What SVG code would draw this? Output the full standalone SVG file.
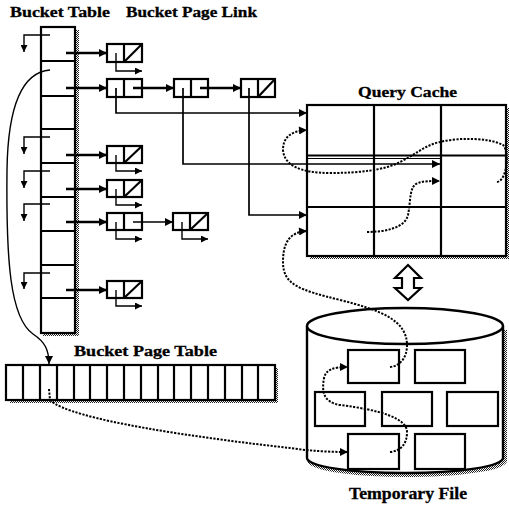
<svg xmlns="http://www.w3.org/2000/svg" width="509" height="507" viewBox="0 0 509 507">
  <defs>
    <pattern id="grain" width="2" height="2" patternUnits="userSpaceOnUse">
      <rect width="1" height="1" fill="#222"/>
      <rect x="1" y="1" width="1" height="1" fill="#222"/>
    </pattern>
    <marker id="ah" viewBox="0 0 10 10" refX="10" refY="5" markerWidth="10" markerHeight="8" markerUnits="userSpaceOnUse" orient="auto">
      <path d="M0 0 L10 5 L0 10 z" fill="#000"/>
    </marker>
    <marker id="ahs" viewBox="0 0 10 10" refX="10" refY="5" markerWidth="8" markerHeight="7" markerUnits="userSpaceOnUse" orient="auto">
      <path d="M0 0 L10 5 L0 10 z" fill="#000"/>
    </marker>
  </defs>
  <style>
    .label { font-family: "Liberation Serif", "DejaVu Serif", serif; font-weight: 700; font-size: 15px; fill: #000; stroke: #000; stroke-width: 0.3; }
    .box { fill: #fff; stroke: #000; stroke-width: 2.2; }
    .grid { stroke: #000; stroke-width: 2.2; fill: none; }
    .shadow { fill: url(#grain); }
    .node rect { fill: #fff; stroke: #000; stroke-width: 2.2; }
    .node line { stroke: #000; stroke-width: 2.2; }
    .ptr { fill: none; stroke: #000; stroke-width: 2.4; }
    .thin { fill: none; stroke: #000; stroke-width: 1.4; }
    .link { fill: none; stroke: #000; stroke-width: 1.7; }
    .dot { fill: none; stroke: #000; stroke-width: 2; stroke-dasharray: 2.2 1.4; }
  </style>
  <rect width="509" height="507" fill="#fff"/>

  <!-- titles -->
  <g id="labels">
    <text class="label" x="10" y="17" textLength="100" lengthAdjust="spacingAndGlyphs">Bucket Table</text>
    <text class="label" x="126" y="17" textLength="131" lengthAdjust="spacingAndGlyphs">Bucket Page Link</text>
    <text class="label" x="358" y="97" textLength="99" lengthAdjust="spacingAndGlyphs">Query Cache</text>
    <text class="label" x="74" y="356" textLength="143" lengthAdjust="spacingAndGlyphs">Bucket Page Table</text>
    <text class="label" x="349" y="499" textLength="118" lengthAdjust="spacingAndGlyphs" style="font-size:16px">Temporary File</text>
  </g>

  <!-- bucket table: 9 slots -->
  <g id="bucket-table">
    <rect class="shadow" x="75" y="30" width="4" height="306"/>
    <rect class="shadow" x="43" y="333" width="36" height="3"/>
    <rect class="box" x="41" y="27" width="34" height="306"/>
    <path class="grid" d="M41 61 H75 M41 96 H75 M41 129 H75 M41 163 H75 M41 197 H75 M41 231 H75 M41 265 H75 M41 298 H75"/>
  </g>

  <!-- bucket page table: 16 slots -->
  <g id="bucket-page-table">
    <rect class="shadow" x="10" y="400" width="268" height="3"/>
    <rect class="shadow" x="275" y="368" width="3" height="35"/>
    <rect class="box" x="6" y="365" width="269" height="35"/>
    <path class="grid" d="M23 365 V400 M40 365 V400 M57 365 V400 M74 365 V400 M90 365 V400 M107 365 V400 M124 365 V400 M141 365 V400 M158 365 V400 M174 365 V400 M191 365 V400 M208 365 V400 M225 365 V400 M242 365 V400 M258 365 V400"/>
  </g>

  <!-- bucket page link nodes -->
  <g id="node-r1" class="node"><rect x="107" y="44" width="35" height="18"/><line x1="124" y1="44" x2="124" y2="62"/><line x1="124" y1="62" x2="142" y2="44"/></g>
  <g id="node-r2a" class="node"><rect x="107" y="79" width="35" height="18"/><line x1="124" y1="79" x2="124" y2="97"/></g>
  <g id="node-r2b" class="node"><rect x="174" y="79" width="34" height="18"/><line x1="191" y1="79" x2="191" y2="97"/></g>
  <g id="node-r2c" class="node"><rect x="241" y="79" width="34" height="18"/><line x1="258" y1="79" x2="258" y2="97"/><line x1="258" y1="97" x2="275" y2="79"/></g>
  <g id="node-r4" class="node"><rect x="107" y="146" width="35" height="17"/><line x1="124" y1="146" x2="124" y2="163"/><line x1="124" y1="163" x2="142" y2="146"/></g>
  <g id="node-r5" class="node"><rect x="107" y="180" width="35" height="17"/><line x1="124" y1="180" x2="124" y2="197"/><line x1="124" y1="197" x2="142" y2="180"/></g>
  <g id="node-r6a" class="node"><rect x="107" y="213" width="35" height="17"/><line x1="124" y1="213" x2="124" y2="230"/></g>
  <g id="node-r6b" class="node"><rect x="173" y="213" width="35" height="17"/><line x1="190" y1="213" x2="190" y2="230"/><line x1="190" y1="230" x2="208" y2="213"/></g>
  <g id="node-r8" class="node"><rect x="107" y="281" width="35" height="17"/><line x1="124" y1="281" x2="124" y2="298"/><line x1="124" y1="298" x2="142" y2="281"/></g>

  <!-- query cache: 3 x 3 grid -->
  <g id="query-cache">
    <rect class="shadow" x="506" y="108" width="3" height="151"/>
    <rect class="shadow" x="310" y="256" width="199" height="3"/>
    <rect class="box" x="307" y="105" width="199" height="151"/>
    <path class="grid" d="M374 105 V256 M441 105 V256 M307 207 H506"/>
    <path class="grid" d="M307 155.5 H506"/>
    <path stroke="#000" stroke-width="1.2" d="M307 158.5 H441"/>
  </g>

  <!-- exchange arrow between cache and file -->
  <g id="exchange">
    <path d="M408 265 L421 278 L414 278 L414 288 L421 288 L408 300 L395 288 L402 288 L402 278 L395 278 Z" fill="#fff" stroke="#000" stroke-width="2.2" stroke-linejoin="miter"/>
  </g>

  <!-- temporary file drum with pages -->
  <g id="temporary-file">
    <path d="M505 330 V459 A98 15 0 0 1 309 461" fill="none" stroke="url(#grain)" stroke-width="4"/>
    <path d="M307 326 V458 A98 15 0 0 0 503 458 V326" fill="#fff" stroke="#000" stroke-width="2.4"/>
    <ellipse cx="405" cy="326" rx="98" ry="18" fill="#fff" stroke="#000" stroke-width="2.4"/>
    <rect class="box" x="348" y="350" width="51" height="33"/>
    <rect class="box" x="415" y="350" width="50" height="33"/>
    <rect class="box" x="315" y="392" width="50" height="34"/>
    <rect class="box" x="382" y="392" width="50" height="34"/>
    <rect class="box" x="447" y="392" width="51" height="34"/>
    <rect class="box" x="348" y="434" width="51" height="35"/>
    <rect class="box" x="415" y="434" width="50" height="35"/>
  </g>

  <g id="connectors">
    <!-- bucket slots to first page link -->
    <path class="ptr" marker-end="url(#ah)" d="M66 53 H107"/>
    <path class="ptr" marker-end="url(#ah)" d="M66 88 H107"/>
    <path class="ptr" marker-end="url(#ah)" d="M66 155 H107"/>
    <path class="ptr" marker-end="url(#ah)" d="M66 189 H107"/>
    <path class="ptr" marker-end="url(#ah)" d="M66 222 H107"/>
    <path class="ptr" marker-end="url(#ah)" d="M66 290 H107"/>

    <!-- next links along a chain -->
    <path class="ptr" marker-end="url(#ah)" d="M133 88 H174"/>
    <path class="ptr" marker-end="url(#ah)" d="M200 88 H241"/>
    <path class="link" marker-end="url(#ah)" d="M133 222 H173"/>

    <!-- chained slots inside the bucket table -->
    <path class="thin" marker-end="url(#ahs)" d="M50 35 H24 V52"/>
    <path class="thin" marker-end="url(#ahs)" d="M50 137 H24 V154"/>
    <path class="thin" marker-end="url(#ahs)" d="M50 171 H24 V188"/>
    <path class="thin" marker-end="url(#ahs)" d="M50 204 H24 V221"/>
    <path class="thin" marker-end="url(#ahs)" d="M50 273 H24 V289"/>

    <!-- page pointers -->
    <path class="thin" marker-end="url(#ahs)" d="M116 53 V71 H142"/>
    <path class="thin" marker-end="url(#ahs)" d="M116 155 V171 H142"/>
    <path class="thin" marker-end="url(#ahs)" d="M116 189 V205 H142"/>
    <path class="thin" marker-end="url(#ahs)" d="M116 222 V239 H142"/>
    <path class="thin" marker-end="url(#ahs)" d="M182 222 V239 H208"/>
    <path class="thin" marker-end="url(#ahs)" d="M116 290 V306 H142"/>

    <!-- page pointers into the query cache -->
    <path class="link" marker-end="url(#ah)" d="M116 88 V113 H307"/>
    <path class="link" marker-end="url(#ah)" d="M183 88 V164 H440"/>
    <path class="link" marker-end="url(#ah)" d="M249 88 V215 H307"/>

    <!-- bucket slot to bucket page table -->
    <path class="thin" marker-end="url(#ah)" d="M50 70 C25 72 8 100 7 170 C6 260 10 318 33 334 C45 342 49 350 49 364"/>

    <!-- dotted paths inside the query cache -->
    <path class="dot" marker-end="url(#ah)" d="M497 182 C508 180 509 150 503 145 C490 138 460 137 440 142 C425 145 415 155 400 162 C385 170 360 173 330 173 C300 173 284 165 283 150 C283 138 290 131 307 130"/>
    <path class="dot" marker-end="url(#ah)" d="M367 232 C385 232 405 228 408 215 C411 200 409 186 418 183 C424 181 430 181 440 181"/>

    <!-- dotted paths from the temporary file -->
    <path class="dot" marker-end="url(#ah)" d="M390 367 C400 366 407 358 407 345 C407 320 380 310 340 300 C300 290 283 285 283 262 C283 242 290 232 307 231"/>
    <path class="dot" marker-end="url(#ah)" d="M390 452 C400 451 407 445 407 432 C407 418 380 410 340 405 C322 402 322 390 324 378 C326 370 332 367 348 367"/>
    <path class="dot" marker-end="url(#ah)" d="M49 389 L50 400 C70 420 200 438 290 448 C310 451 330 452 348 452"/>
  </g>
</svg>
